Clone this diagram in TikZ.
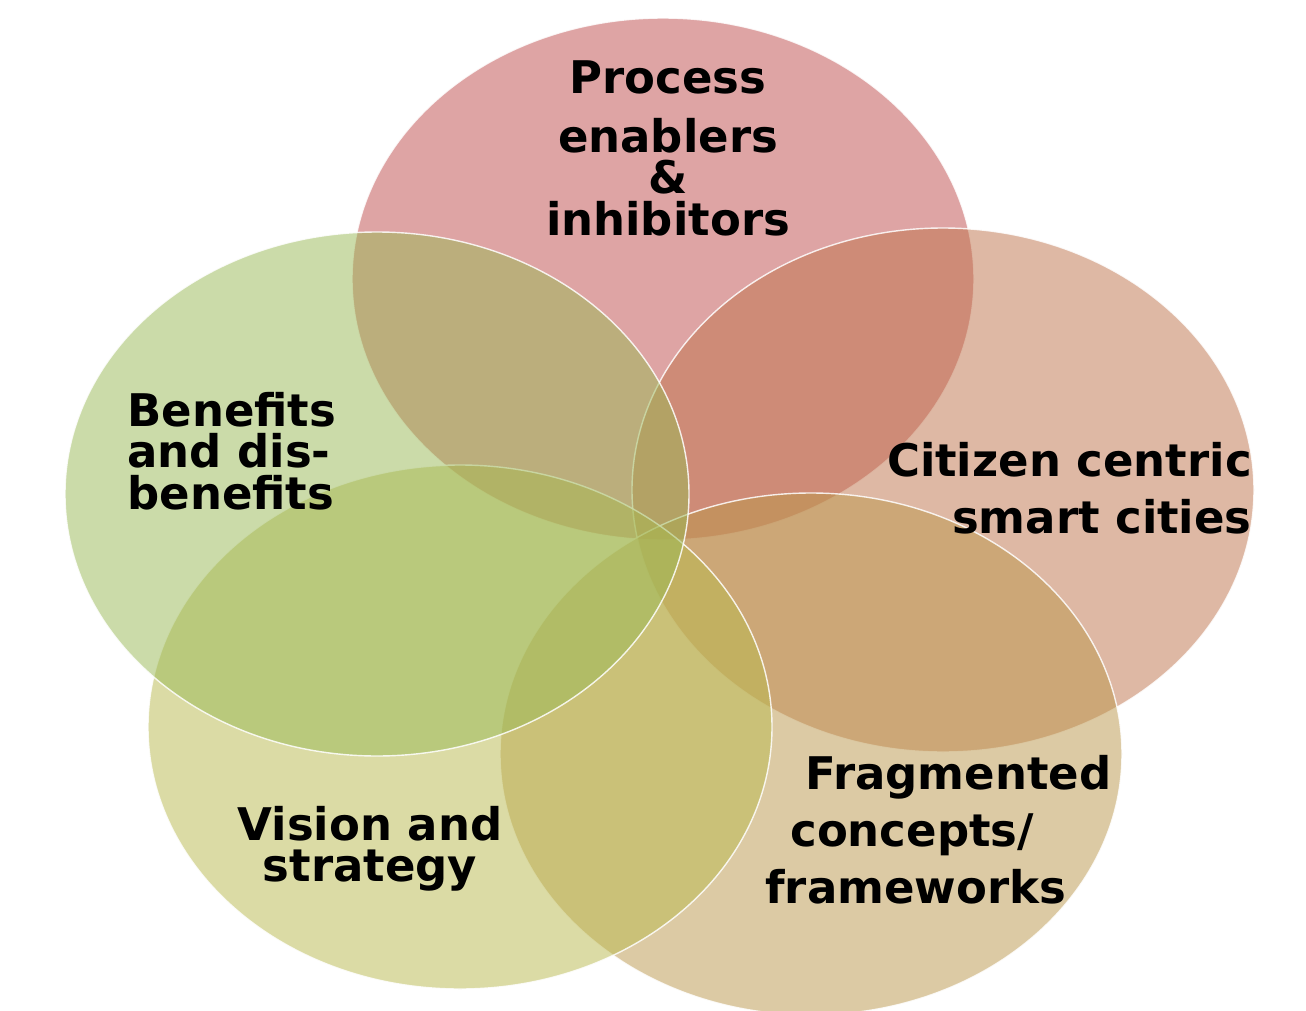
\documentclass[tikz,border=0pt]{standalone}
\usepackage{fontspec}
\setmainfont{DejaVu Sans}
\definecolor{cTop}{RGB}{191,75,75}
\definecolor{cRight}{RGB}{191,115,75}
\definecolor{cBR}{RGB}{187,151,75}
\definecolor{cBL}{RGB}{185,185,77}
\definecolor{cLeft}{RGB}{153,185,85}
\tikzset{
  blob/.style={fill=#1, fill opacity=0.5, draw=white, draw opacity=0.85, line width=0.8pt},
  lbl/.style={inner sep=0pt, font=\fontsize{25.6}{30}\selectfont\bfseries, text=black}
}
\begin{document}
\begin{tikzpicture}[x=0.02cm, y=-0.02cm]
\useasboundingbox (0,0) rectangle (1306,1011);
\clip (0,0) rectangle (1306,1011);
\fill[white] (0,0) rectangle (1306,1011);
\path[blob=cTop]   (663,279) ellipse [x radius=311, y radius=261];
\path[blob=cRight] (943,490) ellipse [x radius=311, y radius=262];
\path[blob=cBR]    (811,754) ellipse [x radius=311, y radius=261];
\path[blob=cBL]    (460,727) ellipse [x radius=312, y radius=262];
\path[blob=cLeft]  (377,494) ellipse [x radius=312, y radius=262];
% top
\node[lbl, anchor=base] (p1) at (668,93) {Process};
\node[lbl, anchor=base] (p2) at (668,152) {enablers};
\node[lbl, anchor=base] (p3) at (668,193) {\&};
\node[lbl, anchor=base] (p4) at (668,235) {inhibitors};
% left
\node[lbl, anchor=base west] (b1) at (127,426) {Benefits};
\node[lbl, anchor=base west] (b2) at (127,467) {and dis-};
\node[lbl, anchor=base west] (b3) at (127,509) {benefits};
% right
\node[lbl, anchor=base east] (c1) at (1252,476) {Citizen centric};
\node[lbl, anchor=base east] (c2) at (1252,533) {smart cities};
% bottom right
\node[lbl, anchor=base west] (f1) at (805,789) {Fragmented};
\node[lbl, anchor=base west] (f2) at (790,846) {concepts/};
\node[lbl, anchor=base west] (f3) at (765,903) {frameworks};
% bottom left
\node[lbl, anchor=base] (v1) at (370,840) {Vision and};
\node[lbl, anchor=base] (v2) at (370,881) {strategy};
\end{tikzpicture}
\end{document}
